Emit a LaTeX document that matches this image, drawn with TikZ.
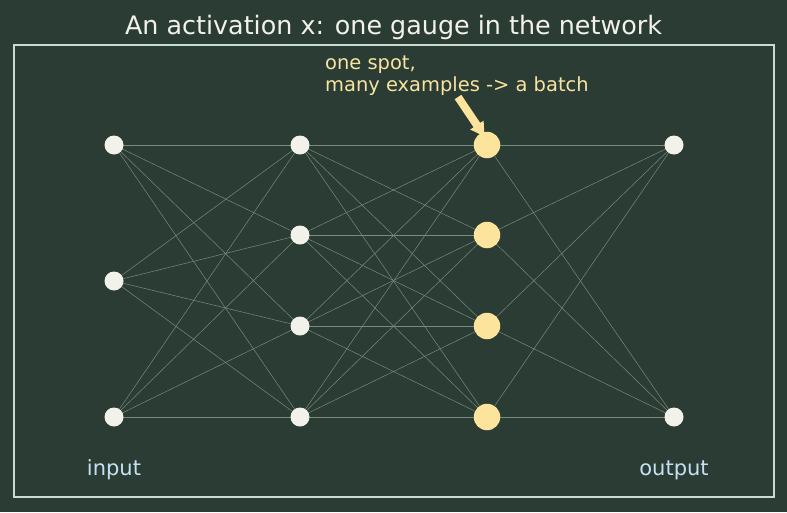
\documentclass[tikz,border=0pt]{standalone}
\usepackage{fontspec}
\setmainfont{DejaVu Sans}
\definecolor{bgc}{HTML}{2B3C34}
\definecolor{edgec}{HTML}{788B7D}
\definecolor{nodec}{HTML}{F3F2EA}
\definecolor{hic}{HTML}{FDE49C}
\definecolor{framec}{HTML}{C9DCD0}
\definecolor{titlec}{HTML}{F2F2EA}
\definecolor{labc}{HTML}{C4E2F4}
\definecolor{annc}{HTML}{F8E4A2}
\tikzset{
  neuron/.style={circle, fill=nodec, draw=none, minimum size=19pt, inner sep=0pt},
  hineuron/.style={circle, fill=hic, draw=none, minimum size=26.5pt, inner sep=0pt},
  conn/.style={draw=edgec, line width=0.5pt},
  labtxt/.style={text=labc, font=\fontsize{21}{24}\selectfont, anchor=base, inner sep=0pt},
  anntxt/.style={text=annc, font=\fontsize{19.45}{23}\selectfont, anchor=base west, inner sep=0pt},
}
\begin{document}
\begin{tikzpicture}[x=1pt,y=-1pt]
\fill[bgc] (0,0) rectangle (787,512);
\useasboundingbox (0,0) rectangle (787,512);
\draw[framec, line width=1.5pt] (14,45) rectangle (774,497);
\node[text=titlec, font=\fontsize{25.4}{30}\selectfont, anchor=base, inner sep=0pt] (title) at (393.5,34) {An activation x: one gauge in the network};
% coordinates
\coordinate (a1) at (114,145);
\coordinate (a2) at (114,281);
\coordinate (a3) at (114,417);
\foreach \i/\y in {1/145,2/235,3/326,4/417} {
  \coordinate (b\i) at (300,\y);
  \coordinate (c\i) at (487,\y);
}
\coordinate (d1) at (674,145);
\coordinate (d2) at (674,417);
% edges
\foreach \i in {1,2,3} \foreach \j in {1,2,3,4} \draw[conn] (a\i) -- (b\j);
\foreach \i in {1,2,3,4} \foreach \j in {1,2,3,4} \draw[conn] (b\i) -- (c\j);
\foreach \i in {1,2,3,4} \foreach \j in {1,2} \draw[conn] (c\i) -- (d\j);
% nodes
\foreach \i in {1,2,3} \node[neuron] (na\i) at (a\i) {};
\foreach \i in {1,2,3,4} \node[neuron] (nb\i) at (b\i) {};
\foreach \i in {1,2,3,4} \node[hineuron] (nc\i) at (c\i) {};
\foreach \i in {1,2} \node[neuron] (nd\i) at (d\i) {};
% labels
\node[labtxt] (inlab) at (114,475.5) {input};
\node[labtxt] (outlab) at (674,475.5) {output};
% annotation
\node[anntxt] (ann1) at (325,69.5) {one spot,};
\node[anntxt] (ann2) at (325,91) {many examples -> a batch};
% arrow
\fill[hic] (461.3,94.8) -- (454.7,99.2) -- (473.6,127.3) -- (470.2,129.5) -- (484.5,136.5) -- (483.6,120.7) -- (480.2,122.9) -- cycle;
\end{tikzpicture}
\end{document}
